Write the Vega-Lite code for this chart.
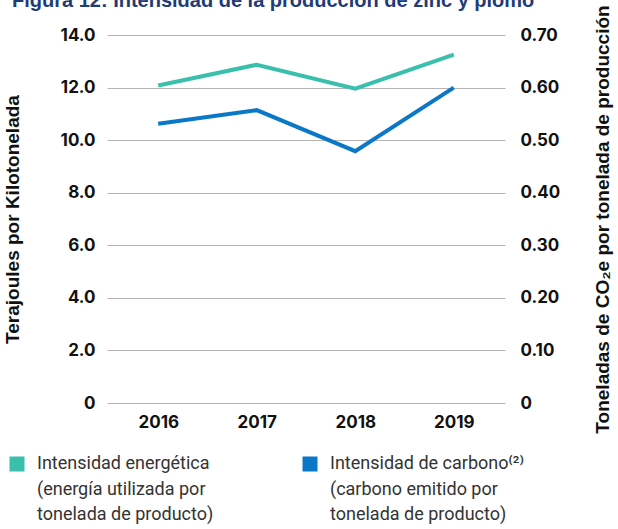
{
  "$schema": "https://vega.github.io/schema/vega-lite/v6.json",
  "width": 398,
  "height": 368,
  "autosize": {"type": "none"},
  "padding": {"left": 107, "top": 35, "right": 113, "bottom": 126},
  "background": "white",
  "title": {
    "text": "Figura 12: Intensidad de la producción de zinc y plomo",
    "anchor": "start",
    "frame": "group",
    "dx": -95,
    "dy": 10,
    "font": "Liberation Sans",
    "fontSize": 20,
    "fontWeight": "bold",
    "color": "#1f3b78"
  },
  "config": {
    "view": {"stroke": null},
    "style": {"guide-label": {"lineHeight": 25.5}},
    "axis": {
      "labelFont": "Inter",
      "labelFontSize": 17,
      "labelFontWeight": "bold",
      "labelColor": "#111111",
      "titleFont": "Liberation Sans",
      "titleFontSize": 19,
      "titleFontWeight": "bold",
      "titleColor": "#111111",
      "domain": false,
      "ticks": false
    }
  },
  "data": {
    "values": [
      {"year": "2016", "serie": "energia", "valor": 12.08},
      {"year": "2017", "serie": "energia", "valor": 12.87},
      {"year": "2018", "serie": "energia", "valor": 11.96},
      {"year": "2019", "serie": "energia", "valor": 13.25},
      {"year": "2016", "serie": "carbono", "valor": 0.531},
      {"year": "2017", "serie": "carbono", "valor": 0.557},
      {"year": "2018", "serie": "carbono", "valor": 0.479},
      {"year": "2019", "serie": "carbono", "valor": 0.600}
    ]
  },
  "encoding": {
    "x": {
      "field": "year",
      "type": "ordinal",
      "scale": {"type": "point", "padding": 0.52},
      "axis": {"title": null, "labelAngle": 0, "labelPadding": 11, "grid": false}
    },
    "color": {
      "field": "serie",
      "type": "nominal",
      "scale": {"domain": ["energia", "carbono"], "range": ["#3abfad", "#0a78c6"]},
      "legend": {
        "title": null,
        "orient": "none",
        "legendX": -105,
        "legendY": 414,
        "direction": "horizontal",
        "columns": 2,
        "columnPadding": 58,
        "symbolType": "stroke",
        "symbolSize": 225,
        "symbolStrokeWidth": 15,
        "symbolOpacity": 1,
        "labelFont": "Roboto",
        "labelFontSize": 18,
        "labelColor": "#333333",
        "labelOffset": 5,
        "labelLimit": 300,
        "labelExpr": "datum.label == 'energia' ? ['Intensidad energética', '(energía utilizada por', 'tonelada de producto)'] : ['Intensidad de carbono⁽²⁾', '(carbono emitido por', 'tonelada de producto)']"
      }
    }
  },
  "layer": [
    {
      "transform": [{"filter": "datum.serie == 'energia'"}],
      "mark": {"type": "line", "strokeWidth": 4},
      "encoding": {
        "y": {
          "field": "valor",
          "type": "quantitative",
          "scale": {"domain": [0, 14]},
          "axis": {
            "orient": "left",
            "title": "Terajoules por Kilotonelada",
            "values": [0, 2, 4, 6, 8, 10, 12, 14],
            "labelExpr": "datum.value == 0 ? '0' : format(datum.value, '.1f')",
            "labelPadding": 12,
            "titlePadding": 38,
            "grid": true,
            "gridColor": "#b5b5b5",
            "gridWidth": 1
          }
        }
      }
    },
    {
      "transform": [{"filter": "datum.serie == 'carbono'"}],
      "mark": {"type": "line", "strokeWidth": 4},
      "encoding": {
        "y": {
          "field": "valor",
          "type": "quantitative",
          "scale": {"domain": [0, 0.7]},
          "axis": {
            "orient": "right",
            "title": "Toneladas de CO₂e por tonelada de producción",
            "values": [0, 0.1, 0.2, 0.3, 0.4, 0.5, 0.6, 0.7],
            "labelExpr": "datum.value == 0 ? '0' : format(datum.value, '.2f')",
            "labelPadding": 15,
            "titlePadding": 53,
            "titleAngle": 270,
            "grid": false
          }
        }
      }
    }
  ],
  "resolve": {"scale": {"y": "independent"}}
}
